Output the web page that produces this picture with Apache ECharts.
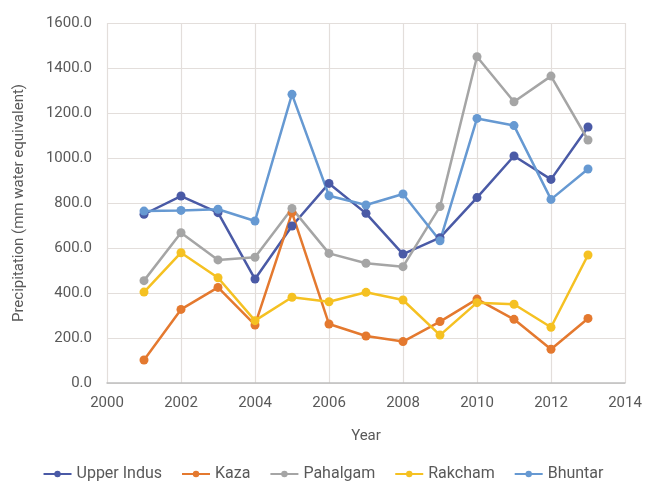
<!DOCTYPE html>
<html>
<head>
<meta charset="utf-8">
<script src="https://cdn.jsdelivr.net/npm/echarts@6/dist/echarts.min.js"></script>
<style>
  html, body { margin: 0; padding: 0; background: #fff; }
  #chart { width: 646px; height: 481px; }
</style>
</head>
<body>
<div id="chart"></div>
<script>
var years = [2001, 2002, 2003, 2004, 2005, 2006, 2007, 2008, 2009, 2010, 2011, 2012, 2013];
var upperIndus = [750, 831, 757, 462, 698, 887, 754, 573, 646, 824, 1009, 905, 1138];
var kaza = [102, 327, 425, 258, 757, 262, 209, 184, 273, 373, 283, 150, 287];
var pahalgam = [455, 668, 547, 559, 776, 576, 532, 517, 784, 1450, 1250, 1364, 1080];
var rakcham = [404, 579, 468, 277, 381, 361, 403, 369, 213, 357, 350, 248, 569];
var bhuntar = [764, 767, 772, 720, 1283, 832, 791, 840, 632, 1176, 1144, 816, 951];

var yTicks = [0, 200, 400, 600, 800, 1000, 1200, 1400, 1600];

var stations = [
  { name: 'Upper Indus', values: upperIndus, color: '#4a5aa6' },
  { name: 'Kaza', values: kaza, color: '#e4792f' },
  { name: 'Pahalgam', values: pahalgam, color: '#a5a5a5' },
  { name: 'Rakcham', values: rakcham, color: '#f5c122' },
  { name: 'Bhuntar', values: bhuntar, color: '#6699d2' }
];

function pairs(vals) {
  return years.map(function(y, i) { return [y, vals[i]]; });
}

var chart = echarts.init(document.getElementById('chart'));

var textColor = '#595959';
var font = 'Roboto, "Noto Sans", sans-serif';

var option = {
  animation: false,
  grid: { left: 107, right: 21, top: 23, bottom: 98 },
  legend: {
    left: 'center',
    top: 461,
    itemWidth: 28,
    itemHeight: 8,
    itemGap: 19,
    textStyle: { color: textColor, fontSize: 16, fontFamily: font },
    data: stations.map(function(s) { return s.name; })
  },
  xAxis: {
    type: 'value',
    min: 2000,
    max: 2014,
    interval: 2,
    name: 'Year',
    nameLocation: 'middle',
    nameGap: 46,
    nameTextStyle: { color: textColor, fontSize: 15, fontFamily: font },
    axisLine: { show: true, lineStyle: { color: '#bfbfbf', width: 1.5 } },
    axisTick: { show: false },
    axisLabel: {
      color: textColor, fontSize: 15, fontFamily: font, margin: 13,
      formatter: function(v) { return String(v); }
    },
    splitLine: { show: true, lineStyle: { color: '#e3dedb', width: 1.2 } }
  },
  yAxis: {
    type: 'value',
    min: yTicks[0],
    max: yTicks[yTicks.length - 1],
    interval: 200,
    name: 'Precipitation (mm water equivalent)',
    nameLocation: 'middle',
    nameGap: 80,
    nameTextStyle: { color: textColor, fontSize: 15, fontFamily: font },
    axisLine: { show: false },
    axisTick: { show: false },
    axisLabel: {
      color: textColor, fontSize: 15, fontFamily: font, margin: 15,
      formatter: function(v) { return v.toFixed(1); }
    },
    splitLine: { show: true, lineStyle: { color: '#e3dedb', width: 1.2 } }
  },
  series: stations.map(function(s) {
    return {
      name: s.name,
      type: 'line',
      data: pairs(s.values),
      symbol: 'circle',
      symbolSize: 9,
      lineStyle: { color: s.color, width: 2.5 },
      itemStyle: { color: s.color }
    };
  })
};

chart.setOption(option);
</script>
</body>
</html>
